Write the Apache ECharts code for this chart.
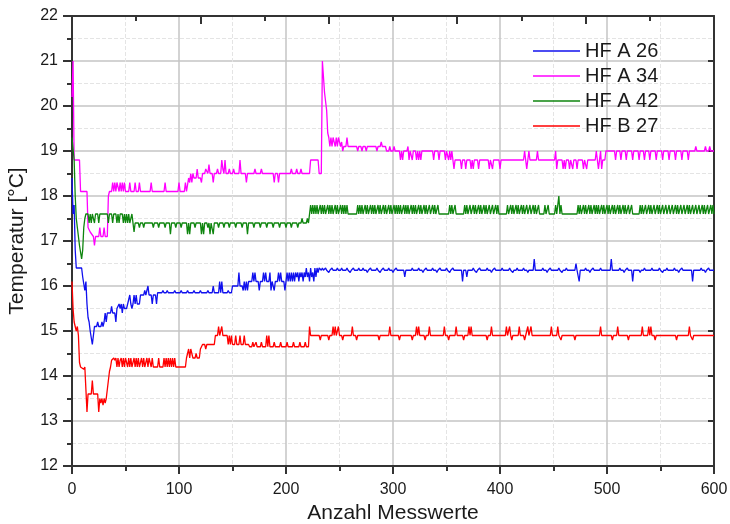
<!DOCTYPE html>
<html>
<head>
<meta charset="utf-8">
<title>Temperatur</title>
<script src="https://cdn.jsdelivr.net/npm/echarts@6/dist/echarts.min.js"></script>
<style>
html, body { margin: 0; padding: 0; background: #fff; }
#chart { width: 730px; height: 524px; }
</style>
</head>
<body>
<div id="chart"></div>
<script>
const seriesNames = ['HF A 26', 'HF A 34', 'HF A 42', 'HF B 27'];

const hfA26 = [[0,18.4],[1,17.6],[2,17.8],[3,16.8],[4,16.4],[9,16.4],[10,16.2],[11,16.05],[12,15.9],[13,16.1],[14,15.6],[15,15.3],[16,15.2],[17,15.0],[19,14.7],[20,14.7],[21,15.1],[23,15.1],[24,15.2],[25,15.1],[27,15.1],[28,15.2],[29,15.1],[30,15.2],[31,15.4],[32,15.2],[33,15.4],[36,15.4],[37,15.55],[38,15.4],[40,15.4],[41,15.2],[42,15.5],[43,15.5],[44,15.6],[45,15.5],[46,15.6],[47,15.4],[48,15.6],[49,15.5],[51,15.5],[52,15.6],[53,15.6],[54,15.8],[55,15.6],[56,15.5],[57,15.6],[58,15.8],[59,15.6],[60,15.8],[61,15.6],[63,15.6],[64,15.8],[67,15.8],[68,15.9],[69,15.8],[70,15.8],[71,16.0],[72,15.8],[74,15.8],[75,15.6],[76,15.8],[78,15.8],[79,15.6],[80,15.85],[84,15.85],[85,15.9],[86,15.85],[88,15.85],[89,15.9],[90,15.85],[95,15.85],[96,15.9],[97,15.85],[101,15.85],[102,15.9],[103,15.85],[107,15.85],[108,15.9],[109,15.85],[113,15.85],[114,15.9],[115,15.85],[119,15.85],[120,15.9],[121,15.85],[126,15.85],[127,15.9],[128,15.85],[131,15.85],[132,16.0],[133,15.85],[137,15.85],[138,16.1],[139,15.85],[140,16.1],[141,15.85],[145,15.85],[146,15.9],[147,15.85],[149,15.85],[150,16.0],[155,16.0],[156,16.3],[157,16.0],[159,16.0],[160,15.9],[161,16.1],[162,15.9],[163,16.1],[164,15.9],[165,16.1],[168,16.1],[169,16.3],[170,16.1],[171,16.3],[172,16.1],[174,16.1],[175,15.9],[176,16.1],[178,16.1],[179,16.3],[180,16.1],[181,16.3],[182,16.1],[184,16.1],[185,16.3],[186,15.9],[187,16.1],[189,15.9],[190,16.1],[192,16.1],[193,16.3],[194,16.1],[195,16.3],[196,16.1],[198,16.1],[199,15.9],[200,16.1],[201,16.3],[202,16.1],[203,16.3],[204,16.1],[205,16.3],[206,16.1],[207,16.3],[208,16.1],[209,16.3],[210,16.2],[211,16.3],[212,16.1],[213,16.3],[214,16.2],[215,16.3],[216,16.1],[217,16.3],[218,16.2],[219,16.4],[220,16.2],[221,16.3],[222,16.1],[223,16.4],[224,16.2],[225,16.3],[226,16.1],[227,16.4],[228,16.2],[229,16.4],[230,16.3],[231,16.4],[233,16.35],[234,16.4],[235,16.35],[236,16.35],[237,16.4],[238,16.35],[239,16.35],[240,16.3],[241,16.35],[242,16.35],[243,16.4],[244,16.35],[247,16.35],[248,16.4],[249,16.35],[251,16.35],[252,16.4],[253,16.35],[256,16.35],[257,16.4],[258,16.35],[259,16.35],[260,16.3],[261,16.35],[262,16.35],[263,16.4],[264,16.35],[267,16.35],[268,16.4],[269,16.35],[271,16.35],[272,16.4],[273,16.35],[275,16.35],[276,16.3],[277,16.35],[278,16.35],[279,16.4],[280,16.35],[284,16.35],[285,16.4],[286,16.35],[287,16.35],[288,16.3],[289,16.35],[290,16.35],[291,16.4],[292,16.35],[295,16.35],[296,16.4],[297,16.35],[299,16.35],[300,16.3],[301,16.35],[302,16.35],[303,16.4],[304,16.35],[310,16.35],[311,16.2],[312,16.35],[317,16.35],[318,16.4],[319,16.35],[323,16.35],[324,16.4],[325,16.35],[327,16.35],[328,16.3],[329,16.35],[330,16.35],[331,16.4],[332,16.35],[336,16.35],[337,16.4],[338,16.35],[340,16.35],[341,16.3],[342,16.35],[343,16.35],[344,16.4],[345,16.35],[349,16.35],[350,16.4],[351,16.35],[352,16.35],[353,16.3],[354,16.35],[355,16.35],[356,16.4],[357,16.35],[364,16.35],[365,16.1],[366,16.35],[368,16.35],[369,16.2],[370,16.35],[374,16.35],[375,16.4],[376,16.35],[377,16.35],[378,16.3],[379,16.35],[380,16.35],[381,16.4],[382,16.35],[387,16.35],[388,16.4],[389,16.35],[391,16.35],[392,16.3],[393,16.35],[394,16.35],[395,16.4],[396,16.35],[401,16.35],[402,16.4],[403,16.35],[408,16.35],[409,16.4],[410,16.35],[411,16.35],[412,16.3],[413,16.35],[415,16.35],[416,16.4],[417,16.35],[421,16.35],[422,16.4],[423,16.35],[425,16.35],[426,16.3],[427,16.35],[431,16.35],[432,16.6],[433,16.35],[439,16.35],[440,16.4],[441,16.35],[443,16.35],[444,16.3],[445,16.35],[446,16.35],[447,16.4],[448,16.35],[454,16.35],[455,16.4],[456,16.35],[457,16.35],[458,16.3],[459,16.35],[461,16.35],[462,16.4],[463,16.35],[470,16.35],[471,16.5],[472,16.35],[473,16.35],[474,16.1],[475,16.35],[479,16.35],[480,16.4],[481,16.35],[483,16.35],[484,16.3],[485,16.35],[486,16.35],[487,16.4],[488,16.35],[493,16.35],[494,16.4],[495,16.35],[503,16.35],[504,16.6],[505,16.35],[511,16.35],[512,16.4],[513,16.35],[515,16.35],[516,16.3],[517,16.35],[518,16.35],[519,16.4],[520,16.35],[523,16.35],[524,16.1],[525,16.35],[530,16.35],[531,16.3],[532,16.35],[534,16.35],[535,16.4],[536,16.35],[541,16.35],[542,16.4],[543,16.35],[548,16.35],[549,16.4],[550,16.35],[551,16.35],[552,16.3],[553,16.35],[555,16.35],[556,16.4],[557,16.35],[562,16.35],[563,16.4],[564,16.35],[566,16.35],[567,16.3],[568,16.35],[569,16.35],[570,16.4],[571,16.35],[579,16.35],[580,16.1],[581,16.35],[587,16.35],[588,16.4],[589,16.35],[591,16.35],[592,16.3],[593,16.35],[594,16.35],[595,16.4],[596,16.35],[600,16.35]];

const hfA34 = [[0,20.2],[1,21.0],[2,18.8],[7,18.8],[8,18.1],[14,18.1],[15,17.3],[17,17.2],[20,17.1],[21,16.9],[22,17.1],[25,17.1],[26,17.3],[27,17.1],[29,17.1],[30,17.3],[31,17.1],[33,17.1],[34,18.0],[35,18.1],[37,18.1],[38,18.3],[39,18.1],[40,18.3],[41,18.1],[42,18.3],[43,18.3],[44,18.1],[45,18.3],[46,18.1],[47,18.3],[48,18.1],[49,18.3],[50,18.1],[53,18.1],[54,18.3],[55,18.1],[58,18.1],[59,18.3],[60,18.1],[62,18.1],[63,18.3],[64,18.1],[73,18.1],[74,18.3],[75,18.1],[86,18.1],[87,18.3],[88,18.1],[99,18.1],[100,18.3],[101,18.1],[105,18.1],[106,18.3],[107,18.1],[108,18.1],[109,18.4],[110,18.3],[111,18.5],[112,18.3],[113,18.5],[114,18.4],[116,18.4],[117,18.6],[118,18.4],[120,18.4],[121,18.3],[122,18.5],[124,18.5],[125,18.6],[127,18.5],[128,18.7],[129,18.5],[131,18.5],[132,18.3],[133,18.5],[135,18.5],[136,18.6],[137,18.5],[139,18.5],[140,18.8],[141,18.6],[142,18.5],[143,18.8],[144,18.5],[146,18.5],[147,18.6],[148,18.5],[150,18.5],[151,18.6],[152,18.5],[156,18.5],[157,18.8],[158,18.5],[162,18.5],[163,18.3],[164,18.5],[170,18.5],[171,18.6],[172,18.5],[176,18.5],[177,18.6],[178,18.5],[188,18.5],[189,18.3],[190,18.5],[192,18.5],[193,18.3],[194,18.5],[204,18.5],[205,18.6],[206,18.5],[209,18.5],[210,18.6],[211,18.5],[213,18.5],[214,18.6],[215,18.5],[222,18.5],[223,18.8],[230,18.8],[231,18.5],[233,18.5],[234,21.0],[236,20.3],[238,19.9],[239,19.4],[240,19.3],[241,19.1],[242,19.3],[243,19.1],[244,19.3],[245,19.2],[246,19.1],[247,19.3],[248,19.1],[249,19.3],[250,19.3],[251,19.1],[252,19.2],[253,19.0],[254,19.1],[256,19.1],[257,19.3],[258,19.1],[266,19.1],[267,19.0],[268,19.1],[270,19.1],[271,19.0],[272,19.1],[274,19.1],[275,19.0],[276,19.1],[284,19.1],[285,19.0],[286,19.1],[288,19.1],[289,19.2],[290,19.1],[293,19.1],[294,19.0],[296,19.0],[297,19.1],[298,19.0],[300,19.0],[301,19.1],[302,19.0],[306,19.0],[307,18.8],[308,19.0],[309,18.8],[310,19.0],[313,19.0],[314,19.1],[315,18.8],[316,19.0],[318,18.8],[319,19.0],[321,19.0],[322,18.8],[323,19.0],[324,18.8],[325,19.0],[326,18.8],[327,19.0],[337,19.0],[338,18.8],[339,19.0],[342,19.0],[343,18.8],[344,19.0],[348,19.0],[349,18.8],[350,19.0],[352,18.8],[353,19.0],[354,18.8],[355,19.0],[356,18.8],[357,18.6],[358,18.8],[363,18.8],[364,18.6],[365,18.8],[367,18.8],[368,18.6],[369,18.8],[372,18.8],[373,18.6],[374,18.8],[375,18.6],[376,18.8],[379,18.8],[380,18.6],[381,18.8],[389,18.8],[390,18.6],[391,18.8],[392,18.8],[393,18.6],[394,18.8],[399,18.8],[400,18.6],[401,18.8],[422,18.8],[423,19.0],[424,18.8],[425,18.6],[426,18.8],[427,19.0],[428,18.8],[434,18.8],[435,19.0],[436,18.8],[451,18.8],[452,19.0],[453,18.6],[454,18.8],[458,18.8],[459,18.6],[460,18.8],[461,18.6],[462,18.8],[464,18.8],[465,18.6],[466,18.8],[468,18.6],[469,18.8],[471,18.8],[472,18.6],[473,18.8],[477,18.8],[478,18.6],[479,18.8],[481,18.6],[482,18.8],[489,18.8],[490,19.0],[491,18.8],[492,18.6],[493,18.8],[494,19.0],[495,18.6],[496,18.8],[498,18.8],[499,19.0],[507,19.0],[508,18.8],[509,19.0],[512,19.0],[513,18.8],[514,19.0],[517,19.0],[518,18.8],[519,19.0],[523,19.0],[524,18.8],[525,19.0],[529,19.0],[530,18.8],[531,19.0],[534,19.0],[535,18.8],[536,19.0],[539,19.0],[540,18.8],[541,19.0],[545,19.0],[546,18.8],[547,19.0],[551,19.0],[552,18.8],[553,19.0],[557,19.0],[558,18.8],[559,19.0],[563,19.0],[564,18.8],[565,19.0],[569,19.0],[570,18.8],[571,19.0],[575,19.0],[576,18.8],[577,19.0],[582,19.0],[583,19.1],[584,19.0],[591,19.0],[592,19.1],[593,19.0],[595,19.0],[596,19.1],[597,19.0],[600,19.0]];

const hfA42 = [[0,19.3],[1,19.3],[2,18.8],[3,18.0],[4,17.5],[5,17.3],[7,16.9],[9,16.6],[10,16.8],[11,17.3],[12,17.5],[13,17.6],[15,17.6],[16,17.4],[17,17.6],[18,17.4],[19,17.6],[20,17.6],[21,17.4],[22,17.6],[24,17.6],[25,17.4],[26,17.6],[33,17.6],[34,17.4],[35,17.6],[37,17.6],[38,17.4],[39,17.6],[41,17.6],[42,17.4],[43,17.6],[44,17.4],[45,17.6],[47,17.6],[48,17.4],[49,17.6],[50,17.4],[51,17.6],[52,17.4],[53,17.6],[54,17.4],[55,17.4],[56,17.6],[57,17.4],[58,17.2],[59,17.4],[62,17.4],[63,17.3],[64,17.4],[66,17.4],[67,17.3],[68,17.4],[75,17.4],[76,17.3],[77,17.4],[80,17.4],[81,17.3],[82,17.4],[86,17.4],[87,17.3],[88,17.4],[91,17.4],[92,17.15],[93,17.4],[96,17.4],[97,17.3],[98,17.4],[101,17.4],[102,17.3],[103,17.4],[107,17.4],[108,17.15],[109,17.4],[110,17.15],[111,17.4],[114,17.4],[115,17.3],[116,17.4],[120,17.4],[121,17.15],[122,17.4],[123,17.15],[124,17.4],[126,17.4],[127,17.3],[128,17.4],[129,17.15],[130,17.4],[132,17.15],[133,17.4],[136,17.4],[137,17.3],[138,17.4],[141,17.4],[142,17.3],[143,17.4],[146,17.4],[147,17.3],[148,17.4],[152,17.4],[153,17.3],[154,17.4],[158,17.4],[159,17.3],[160,17.4],[163,17.4],[164,17.15],[165,17.4],[169,17.4],[170,17.3],[171,17.4],[175,17.4],[176,17.3],[177,17.4],[181,17.4],[182,17.3],[183,17.4],[187,17.4],[188,17.3],[189,17.4],[193,17.4],[194,17.3],[195,17.4],[199,17.4],[200,17.3],[201,17.4],[204,17.4],[205,17.3],[206,17.4],[210,17.4],[211,17.3],[212,17.4],[214,17.4],[215,17.5],[216,17.4],[219,17.4],[220,17.5],[221,17.4],[222,17.6],[223,17.8],[224,17.6],[225,17.8],[226,17.6],[227,17.8],[228,17.6],[229,17.8],[230,17.6],[231,17.6],[232,17.8],[233,17.6],[234,17.8],[235,17.6],[236,17.8],[237,17.6],[238,17.6],[239,17.8],[240,17.6],[241,17.8],[242,17.6],[243,17.8],[244,17.6],[245,17.6],[246,17.8],[247,17.6],[248,17.8],[249,17.6],[250,17.6],[251,17.8],[252,17.6],[253,17.8],[254,17.6],[255,17.8],[256,17.6],[257,17.8],[258,17.6],[266,17.6],[267,17.8],[268,17.6],[269,17.8],[270,17.6],[271,17.8],[272,17.6],[273,17.6],[274,17.8],[275,17.6],[276,17.8],[277,17.6],[278,17.6],[279,17.8],[280,17.6],[281,17.8],[282,17.6],[283,17.8],[284,17.6],[285,17.6],[286,17.8],[287,17.6],[288,17.8],[289,17.6],[290,17.6],[291,17.8],[292,17.6],[293,17.8],[294,17.6],[295,17.6],[296,17.8],[297,17.6],[298,17.8],[299,17.6],[300,17.6],[301,17.8],[302,17.6],[303,17.8],[304,17.6],[305,17.8],[306,17.6],[307,17.8],[308,17.6],[309,17.6],[310,17.8],[311,17.6],[312,17.8],[313,17.6],[314,17.8],[315,17.6],[316,17.6],[317,17.8],[318,17.6],[319,17.8],[320,17.6],[321,17.8],[322,17.6],[323,17.6],[324,17.8],[325,17.6],[326,17.8],[327,17.6],[328,17.6],[329,17.8],[330,17.6],[331,17.8],[332,17.6],[333,17.6],[334,17.8],[335,17.6],[336,17.6],[337,17.8],[338,17.6],[339,17.8],[340,17.6],[341,17.6],[342,17.8],[343,17.6],[352,17.6],[353,17.8],[354,17.6],[355,17.8],[356,17.6],[357,17.6],[358,17.8],[359,17.6],[366,17.6],[367,17.8],[368,17.6],[369,17.8],[370,17.6],[371,17.6],[372,17.8],[373,17.6],[374,17.6],[375,17.8],[376,17.6],[377,17.8],[378,17.6],[379,17.6],[380,17.8],[381,17.6],[382,17.8],[383,17.6],[384,17.6],[385,17.8],[386,17.6],[387,17.8],[388,17.6],[389,17.6],[390,17.8],[391,17.6],[392,17.6],[393,17.8],[394,17.6],[395,17.6],[396,17.8],[397,17.6],[398,17.8],[399,17.6],[406,17.6],[407,17.8],[408,17.6],[409,17.6],[410,17.8],[411,17.6],[412,17.8],[413,17.6],[414,17.6],[415,17.8],[416,17.6],[417,17.8],[418,17.6],[419,17.6],[420,17.8],[421,17.6],[422,17.8],[423,17.6],[424,17.6],[425,17.8],[426,17.6],[427,17.6],[428,17.8],[429,17.6],[430,17.6],[431,17.8],[432,17.6],[433,17.8],[434,17.6],[435,17.6],[436,17.8],[437,17.6],[441,17.6],[442,17.8],[443,17.6],[444,17.6],[445,17.8],[446,17.6],[451,17.6],[452,17.8],[453,17.6],[454,17.6],[455,18.0],[456,17.6],[457,17.8],[458,17.6],[472,17.6],[473,17.8],[474,17.6],[475,17.8],[476,17.6],[477,17.6],[478,17.8],[479,17.6],[480,17.8],[481,17.6],[482,17.6],[483,17.8],[484,17.6],[485,17.8],[486,17.6],[487,17.6],[488,17.8],[489,17.6],[490,17.8],[491,17.6],[492,17.8],[493,17.6],[494,17.6],[495,17.8],[496,17.6],[497,17.8],[498,17.6],[499,17.6],[500,17.8],[501,17.6],[502,17.8],[503,17.6],[504,17.6],[505,17.8],[506,17.6],[507,17.8],[508,17.6],[509,17.6],[510,17.8],[511,17.6],[512,17.8],[513,17.6],[514,17.6],[515,17.8],[516,17.6],[517,17.8],[518,17.6],[519,17.6],[520,17.8],[521,17.6],[522,17.6],[523,17.8],[524,17.6],[530,17.6],[531,17.8],[532,17.6],[533,17.8],[534,17.6],[535,17.6],[536,17.8],[537,17.6],[538,17.6],[539,17.8],[540,17.6],[541,17.8],[542,17.6],[543,17.6],[544,17.8],[545,17.6],[546,17.6],[547,17.8],[548,17.6],[549,17.8],[550,17.6],[551,17.6],[552,17.8],[553,17.6],[554,17.6],[555,17.8],[556,17.6],[557,17.6],[558,17.8],[559,17.6],[560,17.6],[561,17.8],[562,17.6],[563,17.6],[564,17.8],[565,17.6],[566,17.8],[567,17.6],[568,17.6],[569,17.8],[570,17.6],[571,17.6],[572,17.8],[573,17.6],[574,17.6],[575,17.8],[576,17.6],[577,17.8],[578,17.6],[579,17.6],[580,17.8],[581,17.6],[582,17.6],[583,17.8],[584,17.6],[585,17.6],[586,17.8],[587,17.6],[588,17.6],[589,17.8],[590,17.6],[591,17.8],[592,17.6],[593,17.6],[594,17.8],[595,17.6],[596,17.6],[597,17.8],[598,17.6],[599,17.8],[600,17.6]];

const hfB27 = [[0,16.1],[1,15.5],[2,15.2],[3,15.1],[4,15.0],[5,15.1],[6,14.9],[7,14.3],[8,14.2],[11,14.15],[12,14.2],[13,13.7],[14,13.2],[15,13.6],[18,13.6],[19,13.9],[20,13.6],[24,13.6],[25,13.2],[26,13.5],[27,13.4],[28,13.5],[29,13.35],[30,13.5],[31,13.4],[32,13.5],[33,13.7],[34,13.7],[35,14.1],[36,14.2],[37,14.35],[38,14.35],[39,14.4],[40,14.35],[41,14.4],[42,14.2],[43,14.4],[44,14.2],[45,14.35],[46,14.4],[47,14.2],[48,14.4],[49,14.2],[50,14.4],[51,14.4],[52,14.2],[53,14.4],[54,14.2],[55,14.4],[56,14.2],[57,14.2],[58,14.4],[59,14.2],[60,14.4],[61,14.2],[62,14.4],[63,14.2],[64,14.2],[65,14.4],[66,14.2],[67,14.4],[68,14.2],[69,14.2],[70,14.4],[71,14.2],[72,14.4],[73,14.4],[74,14.2],[75,14.4],[76,14.2],[77,14.2],[80,14.2],[81,14.4],[82,14.2],[85,14.2],[86,14.4],[87,14.2],[88,14.4],[89,14.2],[90,14.4],[91,14.2],[92,14.4],[93,14.2],[94,14.4],[95,14.2],[96,14.4],[97,14.2],[106,14.2],[107,14.4],[108,14.4],[109,14.6],[110,14.4],[111,14.6],[112,14.6],[113,14.4],[115,14.4],[116,14.5],[117,14.4],[119,14.4],[120,14.6],[121,14.6],[122,14.7],[124,14.7],[125,14.6],[126,14.7],[133,14.7],[134,14.9],[136,14.9],[137,15.1],[138,14.9],[140,15.1],[141,14.9],[145,14.9],[146,14.7],[147,14.9],[148,14.7],[149,14.9],[150,14.7],[152,14.7],[153,14.9],[154,14.7],[156,14.7],[157,14.9],[158,14.7],[160,14.7],[161,14.9],[162,14.7],[165,14.7],[166,14.65],[168,14.65],[169,14.75],[170,14.65],[172,14.75],[173,14.65],[176,14.65],[177,14.75],[178,14.65],[181,14.65],[182,14.9],[183,14.65],[184,14.9],[185,14.65],[188,14.65],[189,14.75],[190,14.65],[194,14.65],[195,14.75],[196,14.65],[200,14.65],[201,14.75],[202,14.65],[206,14.65],[207,14.75],[208,14.65],[212,14.65],[213,14.75],[214,14.65],[217,14.65],[218,14.75],[219,14.65],[221,14.65],[222,15.1],[223,14.9],[231,14.9],[232,14.8],[233,14.9],[239,14.9],[240,14.8],[241,14.9],[243,14.9],[244,15.1],[245,14.9],[246,15.1],[247,14.9],[248,14.9],[249,15.1],[250,14.9],[252,14.9],[253,14.8],[254,14.9],[261,14.9],[262,15.1],[263,14.9],[265,14.9],[266,14.8],[267,14.9],[286,14.9],[287,14.8],[288,14.9],[296,14.9],[297,15.1],[298,14.9],[305,14.9],[306,14.8],[307,14.9],[317,14.9],[318,14.8],[319,14.9],[321,14.9],[322,15.1],[323,14.9],[324,15.1],[325,14.9],[329,14.9],[330,14.8],[331,14.9],[333,14.9],[334,15.1],[335,14.9],[347,14.9],[348,15.1],[349,14.9],[351,14.9],[352,14.8],[353,14.9],[358,14.9],[359,15.1],[360,14.9],[365,14.9],[366,14.8],[367,14.9],[370,14.9],[371,15.1],[372,14.9],[373,15.1],[374,14.9],[387,14.9],[388,14.8],[389,14.9],[391,14.9],[392,15.1],[393,14.9],[405,14.9],[406,15.1],[407,14.9],[408,14.9],[409,15.1],[410,14.9],[411,14.8],[412,14.9],[417,14.9],[418,15.1],[419,14.9],[422,14.9],[423,14.8],[424,14.9],[425,14.9],[426,15.1],[427,14.9],[428,14.9],[429,15.1],[430,14.9],[447,14.9],[448,15.1],[449,14.9],[453,14.9],[454,15.1],[455,14.9],[456,14.9],[457,14.8],[458,14.9],[469,14.9],[470,14.8],[471,14.9],[493,14.9],[494,15.1],[495,14.9],[504,14.9],[505,14.8],[506,14.9],[509,14.9],[510,15.1],[511,14.9],[519,14.9],[520,14.8],[521,14.9],[532,14.9],[533,15.1],[534,14.9],[538,14.9],[539,15.1],[540,14.9],[541,15.1],[542,14.9],[544,14.9],[545,14.8],[546,14.9],[564,14.9],[565,14.8],[566,14.9],[576,14.9],[577,15.1],[578,14.9],[579,14.9],[580,14.8],[581,14.9],[600,14.9]];

const seriesData = [hfA26, hfA34, hfA42, hfB27];
const seriesColors = ['#1010ee', '#ff00ff', '#0e850e', '#ff0000'];

const font = 'Liberation Sans, Arial, sans-serif';

const chart = echarts.init(document.getElementById('chart'));

chart.setOption({
  animation: false,
  backgroundColor: '#fff',
  grid: { left: 72, right: 16, top: 16, bottom: 58, outerBoundsMode: 'none' },
  legend: {
    orient: 'vertical',
    left: 528,
    top: 36,
    icon: 'rect',
    itemWidth: 47,
    itemHeight: 1.5,
    itemGap: 5,
    textStyle: { fontFamily: font, fontSize: 20, lineHeight: 18, color: '#1a1a1a' },
    data: seriesNames
  },
  xAxis: [{
    type: 'value', min: 0, max: 600, interval: 100, position: 'bottom',
    name: 'Anzahl Messwerte', nameLocation: 'middle', nameGap: 34,
    nameTextStyle: { fontFamily: font, fontSize: 21, color: '#1a1a1a' },
    axisLine: { show: true, onZero: false, lineStyle: { color: '#333', width: 2 } },
    axisTick: { show: true, inside: false, length: 8, lineStyle: { color: '#333', width: 2 } },
    minorTick: { show: true, splitNumber: 2, length: 5, lineStyle: { color: '#333', width: 2 } },
    axisLabel: { fontFamily: font, fontSize: 16, color: '#1a1a1a', margin: 16 },
    splitLine: { show: true, lineStyle: { color: '#c4c4c4', width: 1.5 } },
    minorSplitLine: { show: true, lineStyle: { color: '#e4e4e4', width: 1, type: 'dashed' } }
  }, {
    // obere Achse, nur Striche
    type: 'value', min: 0, max: 600, interval: 120, position: 'top',
    axisLine: { show: true, onZero: false, lineStyle: { color: '#333', width: 2 } },
    axisTick: { show: true, inside: true, length: 8, lineStyle: { color: '#333', width: 2 } },
    minorTick: { show: true, splitNumber: 2, length: 5, lineStyle: { color: '#333', width: 2 } },
    axisLabel: { show: false },
    splitLine: { show: false }
  }],
  yAxis: [{
    type: 'value', min: 12, max: 22, interval: 1, position: 'left',
    name: 'Temperatur [°C]', nameLocation: 'middle', nameGap: 44, nameRotate: 90,
    nameTextStyle: { fontFamily: font, fontSize: 21, color: '#1a1a1a' },
    axisLine: { show: true, onZero: false, lineStyle: { color: '#333', width: 2 } },
    axisTick: { show: true, inside: false, length: 9, lineStyle: { color: '#333', width: 2 } },
    minorTick: { show: true, splitNumber: 2, length: 5, lineStyle: { color: '#333', width: 2 } },
    axisLabel: { fontFamily: font, fontSize: 16, color: '#1a1a1a', margin: 14 },
    splitLine: { show: true, lineStyle: { color: '#c4c4c4', width: 1.5 } },
    minorSplitLine: { show: true, lineStyle: { color: '#e4e4e4', width: 1, type: 'dashed' } }
  }, {
    // rechte Achse
    type: 'value', min: 12, max: 22, interval: 1, position: 'right',
    axisLine: { show: true, onZero: false, lineStyle: { color: '#333', width: 2 } },
    axisTick: { show: true, inside: true, length: 6, lineStyle: { color: '#333', width: 2 } },
    axisLabel: { show: false },
    splitLine: { show: false }
  }],
  series: seriesNames.map((name, i) => ({
    name: name,
    type: 'line',
    xAxisIndex: 0,
    yAxisIndex: 0,
    data: seriesData[i],
    symbol: 'none',
    showSymbol: false,
    color: seriesColors[i],
    lineStyle: { width: 1.3, color: seriesColors[i] }
  }))
});
</script>
</body>
</html>
